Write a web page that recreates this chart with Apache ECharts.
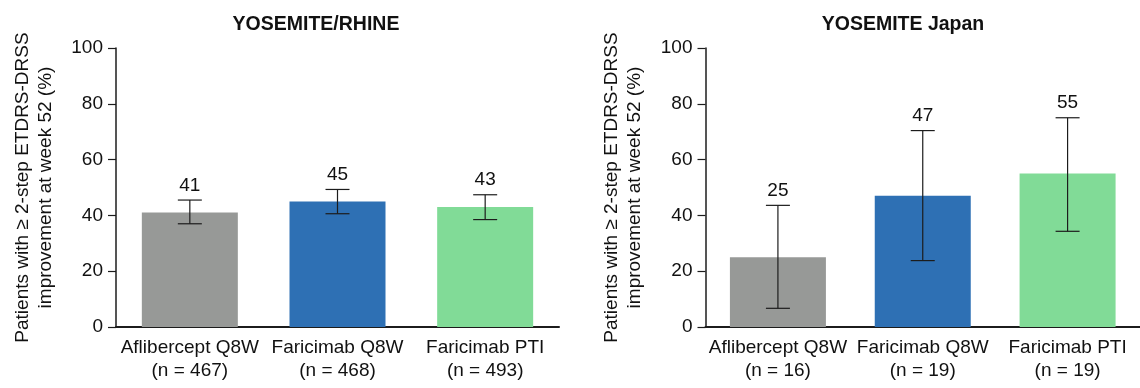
<!DOCTYPE html>
<html>
<head>
<meta charset="utf-8">
<script src="https://cdn.jsdelivr.net/npm/echarts@6/dist/echarts.min.js"></script>
<style>
  html, body { margin: 0; padding: 0; background: #fff; }
  #chart { width: 1140px; height: 388px; }
</style>
</head>
<body>
<div id="chart"></div>
<script>
// Treatment arms and sample sizes
const armNames = ['Aflibercept Q8W', 'Faricimab Q8W', 'Faricimab PTI'];
const rhineN = [467, 468, 493];
const japanN = [16, 19, 19];

// Proportion (%) with >= 2-step ETDRS-DRSS improvement, with 95% CI
const rhineValues = [41, 45, 43];
const rhineLow = [37.0, 40.6, 38.5];
const rhineHigh = [45.5, 49.3, 47.4];

const japanValues = [25, 47, 55];
const japanLow = [6.7, 23.8, 34.3];
const japanHigh = [43.6, 70.4, 75.0];

const yTicks = [0, 20, 40, 60, 80, 100];
const panelTitles = ['YOSEMITE/RHINE', 'YOSEMITE Japan'];
const yAxisTitle = 'Patients with \u2265 2-step ETDRS-DRSS\nimprovement at week 52 (%)';

const armColors = ['#979997', '#2e70b4', '#81db97'];
const FONT = 'Arial, "Liberation Sans", sans-serif';
const FS = 19;

function categoryLabels(ns) {
  return armNames.map((name, i) => name + '\n(n = ' + ns[i] + ')');
}

function barData(values) {
  return values.map((v, i) => ({ value: v, itemStyle: { color: armColors[i] } }));
}

function errorData(values, lows, highs) {
  return values.map((v, i) => [i, lows[i], highs[i], v]);
}

// Vertical CI whisker with caps, and the bar's value printed above it
function renderError(params, api) {
  const i = api.value(0);
  const lo = api.coord([i, api.value(1)]);
  const hi = api.coord([i, api.value(2)]);
  const half = 12;
  const stroke = { stroke: '#1c1c1c', lineWidth: 1.2 };
  return {
    type: 'group',
    children: [
      { type: 'line', shape: { x1: hi[0], y1: hi[1], x2: lo[0], y2: lo[1] }, style: stroke },
      { type: 'line', shape: { x1: hi[0] - half, y1: hi[1], x2: hi[0] + half, y2: hi[1] }, style: stroke },
      { type: 'line', shape: { x1: lo[0] - half, y1: lo[1], x2: lo[0] + half, y2: lo[1] }, style: stroke },
      {
        type: 'text',
        style: {
          text: String(api.value(3)),
          x: hi[0], y: hi[1] - 5,
          align: 'center', verticalAlign: 'bottom',
          fontSize: FS, fontFamily: FONT, fill: '#111'
        }
      }
    ]
  };
}

function xAxisFor(gridIndex, ns) {
  return {
    type: 'category',
    gridIndex: gridIndex,
    data: categoryLabels(ns),
    axisLine: { lineStyle: { color: '#1c1c1c', width: 2 } },
    axisTick: { show: false },
    axisLabel: { color: '#111', fontSize: FS, fontFamily: FONT, lineHeight: 23, margin: 9, interval: 0 }
  };
}

function yAxisFor(gridIndex) {
  return {
    type: 'value',
    gridIndex: gridIndex,
    min: yTicks[0], max: yTicks[yTicks.length - 1], interval: 20,
    name: yAxisTitle,
    nameLocation: 'middle',
    nameGap: 59,
    nameTextStyle: { color: '#111', fontSize: FS, fontFamily: FONT, lineHeight: 23 },
    axisLine: { show: true, lineStyle: { color: '#1c1c1c', width: 1.5 } },
    axisTick: { show: true, length: 8, lineStyle: { color: '#1c1c1c', width: 1.2 } },
    axisLabel: { color: '#111', fontSize: FS, fontFamily: FONT, margin: 13 },
    splitLine: { show: false }
  };
}

const chart = echarts.init(document.getElementById('chart'), null, { renderer: 'canvas' });
chart.setOption({
  backgroundColor: '#fff',
  animation: false,
  title: [
    { text: panelTitles[0], left: 316, top: 15, textAlign: 'center', padding: 0,
      textStyle: { fontSize: 19.5, fontWeight: 'bold', fontFamily: FONT, color: '#111' } },
    { text: panelTitles[1], left: 903, top: 15, textAlign: 'center', padding: 0,
      textStyle: { fontSize: 19.5, fontWeight: 'bold', fontFamily: FONT, color: '#111' } }
  ],
  grid: [
    { left: 116, top: 48, width: 443, height: 279 },
    { left: 705.5, top: 48, width: 443, height: 279 }
  ],
  xAxis: [xAxisFor(0, rhineN), xAxisFor(1, japanN)],
  yAxis: [yAxisFor(0), yAxisFor(1)],
  series: [
    { type: 'bar', xAxisIndex: 0, yAxisIndex: 0, barWidth: 96, data: barData(rhineValues) },
    { type: 'custom', xAxisIndex: 0, yAxisIndex: 0, renderItem: renderError,
      encode: { x: 0, y: [1, 2] }, data: errorData(rhineValues, rhineLow, rhineHigh), z: 5 },
    { type: 'bar', xAxisIndex: 1, yAxisIndex: 1, barWidth: 96, data: barData(japanValues) },
    { type: 'custom', xAxisIndex: 1, yAxisIndex: 1, renderItem: renderError,
      encode: { x: 0, y: [1, 2] }, data: errorData(japanValues, japanLow, japanHigh), z: 5 }
  ]
});
</script>
</body>
</html>
